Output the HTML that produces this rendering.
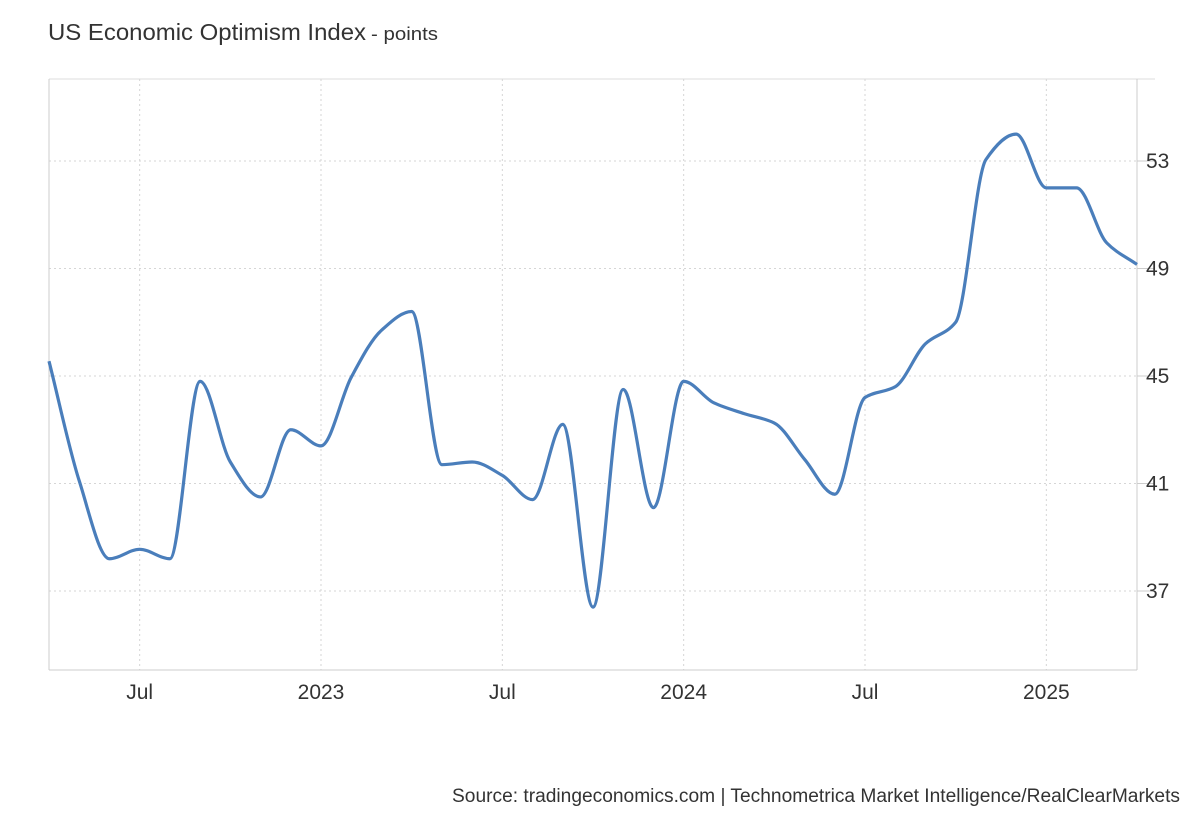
<!DOCTYPE html>
<html><head><meta charset="utf-8"><style>
body{margin:0;background:#fff;font-family:"Liberation Sans",Arial,sans-serif;}
svg text{font-family:"Liberation Sans",Arial,sans-serif;}
</style></head><body>
<svg id="chart" width="1200" height="820" xmlns="http://www.w3.org/2000/svg">
<text x="48" y="40" font-size="23" fill="#333" textLength="318" lengthAdjust="spacingAndGlyphs">US Economic Optimism Index</text>
<text x="371" y="40" font-size="18" fill="#333" textLength="67" lengthAdjust="spacingAndGlyphs">- points</text>
<g id="grid"></g>
<g id="axes"></g>
<path id="line" fill="none" stroke="#4a7ebb" stroke-width="3.2" stroke-linejoin="round"/>
<text x="1180" y="802" text-anchor="end" font-size="19" fill="#333" textLength="728" lengthAdjust="spacingAndGlyphs">Source: tradingeconomics.com | Technometrica Market Intelligence/RealClearMarkets</text>
</svg>
<script>
const values=[45.55,41.1,38.2,38.55,38.2,44.8,41.8,40.5,43.0,42.4,44.95,46.7,47.4,41.7,41.8,41.3,40.4,43.2,36.4,44.5,40.1,44.8,44.0,43.6,43.25,41.9,40.6,44.2,44.6,46.2,47.0,53.05,54.0,52.0,52.0,49.95,49.15];
const yTicks=[37,41,45,49,53];
const xTickLabels=["Jul","2023","Jul","2024","Jul","2025"];
const xTickIdx=[3,9,15,21,27,33];
const X0=49,X1=1137,Y0=79,Y1=670,yMin=34.06,yMax=56.05;
const xs=i=>X0+i*(X1-X0)/(values.length-1);
const ys=v=>Y1-(v-yMin)/(yMax-yMin)*(Y1-Y0);
const ns="http://www.w3.org/2000/svg";
const gridG=document.getElementById('grid'),axesG=document.getElementById('axes');
function mk(tag,attrs,parent){const e=document.createElementNS(ns,tag);for(const k in attrs)e.setAttribute(k,attrs[k]);parent.appendChild(e);return e;}
const topLine=mk('line',{x1:X0,x2:1155,y1:Y0,y2:Y0,stroke:'#ddd','stroke-width':1},gridG);


yTicks.forEach(t=>{
 const l=mk('line',{x1:X0,x2:1137,y1:ys(t),y2:ys(t),stroke:'#d6d6d6','stroke-dasharray':'2,3'},gridG);
 
 
 const tk=mk('line',{x1:1137,x2:1155,y1:ys(t),y2:ys(t),stroke:'#ccc'},axesG);
 
 
 const tx=mk('text',{x:1146,y:ys(t)+7,'font-size':21,fill:'#333'},axesG);
 tx.textContent=t;
 
 
});
xTickIdx.forEach((idx,k)=>{
 const l=mk('line',{x1:xs(idx),x2:xs(idx),y1:Y0,y2:Y1,stroke:'#d6d6d6','stroke-dasharray':'2,3'},gridG);
 
 
 const tx=mk('text',{x:xs(idx),y:699,'font-size':21,fill:'#333','text-anchor':'middle'},axesG);
 tx.textContent=xTickLabels[k];
 
 
});
const ax1=mk('line',{x1:X0,x2:X0,y1:Y0,y2:Y1,stroke:'#ccc'},axesG);


const ax2=mk('line',{x1:X0,x2:1137,y1:Y1,y2:Y1,stroke:'#ccc'},axesG);


const ax3=mk('line',{x1:1137,x2:1137,y1:Y0,y2:Y1,stroke:'#ccc'},axesG);


const n=values.length,px=values.map((v,i)=>xs(i)),py=values.map(v=>ys(v));
const d=[],m=[];
for(let i=0;i<n-1;i++)d.push((py[i+1]-py[i])/(px[i+1]-px[i]));
for(let i=0;i<n;i++){if(i==0)m.push(d[0]);else if(i==n-1)m.push(d[n-2]);else m.push(d[i-1]*d[i]<=0?0:2/(1/d[i-1]+1/d[i]));}
let p=`M${px[0]},${py[0]}`;
for(let i=0;i<n-1;i++){const h=(px[i+1]-px[i])/3;p+=` C${px[i]+h},${py[i]+m[i]*h} ${px[i+1]-h},${py[i+1]-m[i+1]*h} ${px[i+1]},${py[i+1]}`;}
document.getElementById('line').setAttribute('d',p);
</script>
</body></html>
